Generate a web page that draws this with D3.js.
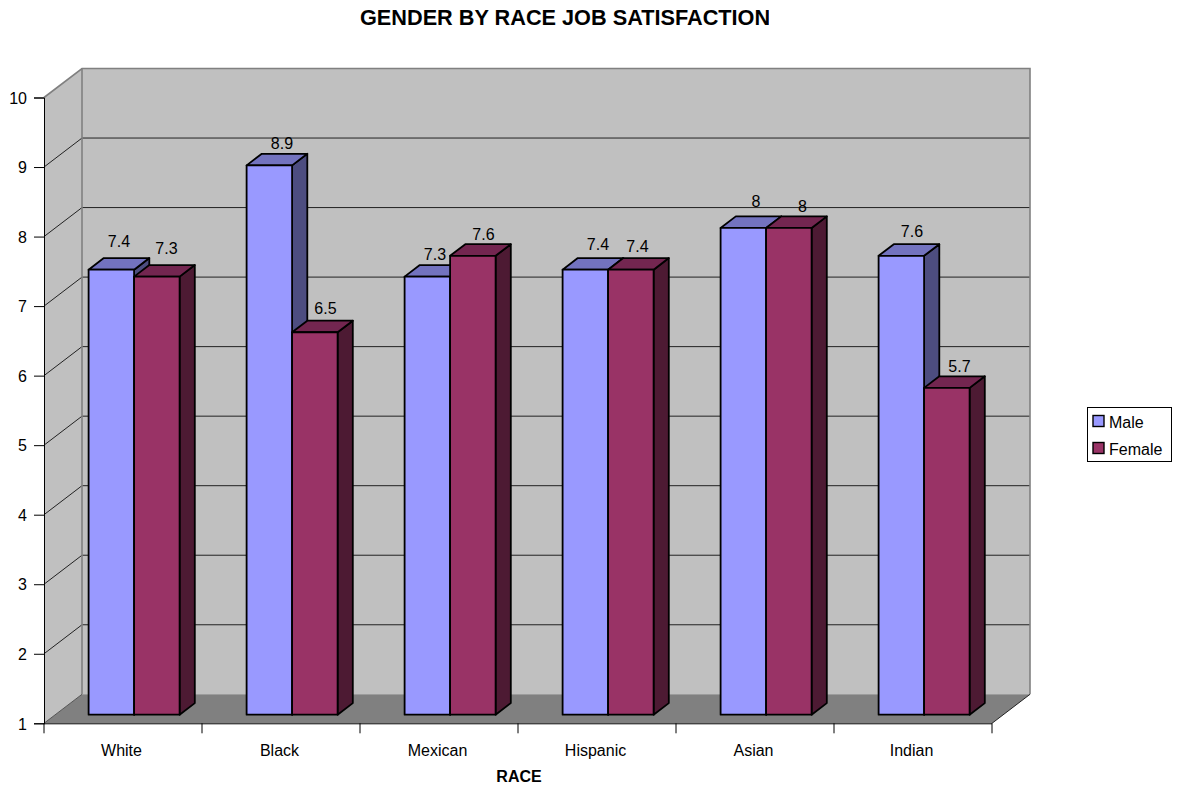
<!DOCTYPE html>
<html><head><meta charset="utf-8">
<script src="https://cdnjs.cloudflare.com/ajax/libs/d3/7.8.5/d3.min.js"></script>
<style>html,body{margin:0;padding:0;background:#fff}svg{display:block}text{font-family:"Liberation Sans",Arial,sans-serif;fill:#000}</style>
</head><body><svg id="c" width="1178" height="785"></svg>
<script>
const categories = ["White","Black","Mexican","Hispanic","Asian","Indian"];
const seriesNames = ["Male","Female"];
const maleValues = [7.4,8.9,7.3,7.4,8,7.6];
const femaleValues = [7.3,6.5,7.6,7.4,8,5.7];
const yTicks = [1,2,3,4,5,6,7,8,9,10];
const titleText = "GENDER BY RACE JOB SATISFACTION";
const xTitleText = "RACE";
// hand-placed data label nudges [dx, dy] seen in the source renderer
const maleNudge = [[0,-6],[5,1],[0,0],[5,-3],[5,-4],[3,-2]];
const femaleNudge = [[2,-6],[3,-1],[3,1],[-1,-1],[6,1],[5,1]];

const svg = d3.select("#c");
const colors = {Male:{front:"#9999FF",top:"#7373BF",side:"#4D4D80"},Female:{front:"#993366",top:"#732650",side:"#4D1A33"}};
const wallD = {x:38,y:-29}, barOff = {x:11.1,y:-8.6}, barD = {x:15.2,y:-11.6};
const x = d3.scaleBand().domain(categories).range([44,992]);
const y = d3.scaleLinear().domain([1,10]).range([723.3,97.5]);
const inner = d3.scaleBand().domain(seriesNames).range([0,91]);
const pts = a => a.map(p=>p.join(",")).join(" ");
const x0=x.range()[0], x1=x.range()[1], yB=y(1), yT=y(10);

// walls and floor
svg.append("polygon").attr("points",pts([[x0,yT],[x0+wallD.x,yT+wallD.y],[x0+wallD.x,yB+wallD.y],[x0,yB]])).attr("fill","#C0C0C0");
svg.append("polygon").attr("points",pts([[x0+wallD.x,yT+wallD.y],[x1+wallD.x,yT+wallD.y],[x1+wallD.x,yB+wallD.y],[x0+wallD.x,yB+wallD.y]])).attr("fill","#C0C0C0");
svg.append("polygon").attr("points",pts([[x0,yB],[x1,yB],[x1+wallD.x,yB+wallD.y],[x0+wallD.x,yB+wallD.y]])).attr("fill","#808080");

// gridlines
const grid = svg.append("g").attr("fill","none");
yTicks.slice(1,-1).forEach(t=>{
  grid.append("polyline").attr("points",pts([[x0,y(t)],[x0+wallD.x,y(t)+wallD.y],[x1+wallD.x,y(t)+wallD.y]])).attr("stroke","#222").attr("stroke-width",1);
});
// wall borders
grid.append("polyline").attr("points",pts([[x0,yT],[x0+wallD.x,yT+wallD.y],[x1+wallD.x,yT+wallD.y],[x1+wallD.x,yB+wallD.y]])).attr("stroke","#808080").attr("stroke-width",1.6);
grid.append("line").attr("x1",x0+wallD.x).attr("x2",x0+wallD.x).attr("y1",yT+wallD.y).attr("y2",yB+wallD.y).attr("stroke","#808080").attr("stroke-width",1.6);
grid.append("line").attr("x1",x0).attr("x2",x0+wallD.x).attr("y1",yB).attr("y2",yB+wallD.y).attr("stroke","#555").attr("stroke-width",1);
grid.append("line").attr("x1",x1).attr("x2",x1+wallD.x).attr("y1",yB).attr("y2",yB+wallD.y).attr("stroke","#222").attr("stroke-width",1);

// axes
const yAxis = d3.axisLeft(y).tickValues(yTicks).tickSize(10).tickFormat(d3.format("d"));
const gy = svg.append("g").attr("transform",`translate(${x0},0)`).call(yAxis);
gy.selectAll("text").attr("font-size",16).attr("x",-17).attr("dy","0.36em").attr("font-family",'"Liberation Sans"');
gy.selectAll("line,path").attr("stroke","#000");
const gx = svg.append("g").attr("transform",`translate(0,${yB})`)
  .call(d3.axisBottom(x).tickSize(0).tickFormat(d=>d));
gx.select("path").attr("stroke","#000").attr("d",`M${x0},0.5H${x1}`);
gx.selectAll("text").attr("font-size",16).attr("x",-1.5).attr("y",0).attr("dy",32.5).attr("font-family",'"Liberation Sans"');
const sepTicks = [...categories.map(c=>x(c)),x1];
gx.selectAll("line.sep").data(sepTicks).join("line").attr("class","sep")
  .attr("x1",d=>d).attr("x2",d=>d).attr("y1",0).attr("y2",10).attr("stroke","#000");

// bars, drawn left to right, series by series
const barLayer = svg.append("g").attr("stroke","#000").attr("stroke-width",1.8).attr("stroke-linejoin","round");
const labelLayer = svg.append("g");
categories.forEach((c,i)=>{
  [[seriesNames[0],maleValues,maleNudge],[seriesNames[1],femaleValues,femaleNudge]].forEach(([s,vals,nudge])=>{
    const v = vals[i];
    const L = x(c)+x.bandwidth()/2-inner.bandwidth()+ (inner(s)) + barOff.x;
    const R = L+inner.bandwidth();
    const B = yB+barOff.y, T = y(v)+barOff.y;
    const col = colors[s];
    barLayer.append("polygon").attr("points",pts([[R,T],[R+barD.x,T+barD.y],[R+barD.x,B+barD.y],[R,B]])).attr("fill",col.side);
    barLayer.append("polygon").attr("points",pts([[L,T],[L+barD.x,T+barD.y],[R+barD.x,T+barD.y],[R,T]])).attr("fill",col.top);
    barLayer.append("rect").attr("x",L).attr("y",T).attr("width",R-L).attr("height",B-T).attr("fill",col.front);
    labelLayer.append("text").attr("x",(L+R)/2+barD.x/2+nudge[i][0]).attr("y",T+barD.y-5.5+nudge[i][1])
      .attr("text-anchor","middle").attr("font-size",16).text(d3.format("~g")(v));
  });
});

// titles
svg.append("clipPath").attr("id","tc").append("rect").attr("x",340).attr("y",0).attr("width",429).attr("height",50);
svg.append("text").attr("x",360).attr("y",25).attr("font-size",21.7).attr("font-weight","bold").attr("clip-path","url(#tc)").text(titleText);
svg.append("text").attr("x",519).attr("y",782).attr("text-anchor","middle").attr("font-size",16).attr("font-weight","bold").text(xTitleText);

// legend
const lg = svg.append("g");
lg.append("rect").attr("x",1087.5).attr("y",407.5).attr("width",84).attr("height",54).attr("fill","#fff").attr("stroke","#000").attr("stroke-width",1);
seriesNames.forEach((s,i)=>{
  lg.append("rect").attr("x",1093).attr("y",415.5+i*27).attr("width",11).attr("height",11).attr("fill",colors[s].front).attr("stroke","#000").attr("stroke-width",1.4);
  lg.append("text").attr("x",1109).attr("y",427.5+i*27).attr("font-size",16).text(s);
});
</script></body></html>
